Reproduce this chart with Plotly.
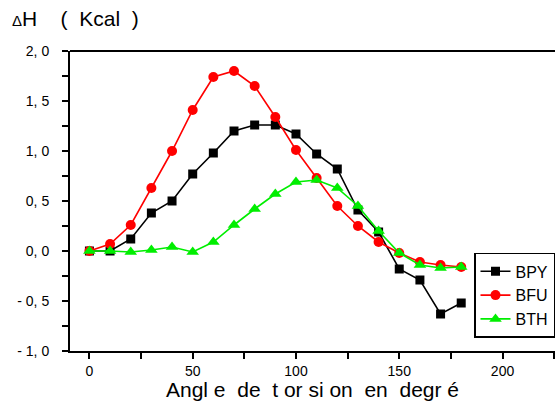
import plotly.graph_objects as go

angles = [0, 10, 20, 30, 40, 50, 60, 70, 80, 90, 100, 110, 120, 130, 140, 150, 160, 170, 180]
bpy = [0.0, 0.0, 0.12, 0.38, 0.50, 0.77, 0.98, 1.20, 1.26, 1.26, 1.17, 0.97, 0.82, 0.41, 0.19, -0.18, -0.29, -0.63, -0.52]
bfu = [0.0, 0.07, 0.26, 0.63, 1.00, 1.41, 1.74, 1.80, 1.65, 1.34, 1.01, 0.73, 0.45, 0.25, 0.09, -0.02, -0.11, -0.14, -0.16]
bth = [0.0, 0.0, -0.01, 0.01, 0.04, -0.01, 0.09, 0.26, 0.42, 0.57, 0.69, 0.71, 0.63, 0.45, 0.20, -0.02, -0.14, -0.17, -0.16]

y_ticks = [-1.0, -0.5, 0.0, 0.5, 1.0, 1.5, 2.0]
y_tick_text = ["- 1, 0", "- 0, 5", "0, 0", "0, 5", "1, 0", "1, 5", "2, 0"]
x_ticks = [0, 50, 100, 150, 200]
x_tick_text = ["0", "50", "100", "150", "200"]

font_family = "Liberation Sans, Arial, sans-serif"

fig = go.Figure()
fig.add_trace(go.Scatter(x=angles, y=bpy, name="BPY", mode="lines+markers",
                         line=dict(color="black", width=1.6),
                         marker=dict(symbol="square", size=9, color="black")))
fig.add_trace(go.Scatter(x=angles, y=bfu, name="BFU", mode="lines+markers",
                         line=dict(color="#ff0000", width=1.6),
                         marker=dict(symbol="circle", size=10, color="#ff0000")))
fig.add_trace(go.Scatter(x=angles, y=bth, name="BTH", mode="lines+markers",
                         line=dict(color="#00ee00", width=1.6),
                         marker=dict(symbol="triangle-up", size=11, color="#00ee00")))

fig.update_layout(
    width=555, height=401,
    margin=dict(l=70, r=0, t=51, b=50),
    paper_bgcolor="white", plot_bgcolor="white",
    font=dict(family=font_family, color="black"),
    showlegend=True,
    legend=dict(x=1.0, y=0.327, xanchor="right", yanchor="top",
                bordercolor="black", borderwidth=1.5, bgcolor="white",
                font=dict(size=16, family=font_family), tracegroupgap=0,
                itemwidth=30),
    xaxis=dict(range=[-9.4, 225.4], showgrid=False, zeroline=False,
               showline=True, linecolor="black", linewidth=2, automargin=False,
               ticks="outside", ticklen=6, tickwidth=1.5, tickcolor="black",
               tickvals=x_ticks, ticktext=x_tick_text,
               tickfont=dict(size=14),
               minor=dict(dtick=25, tick0=0, ticks="outside", ticklen=6, tickwidth=1.5, tickcolor="black"),
               title=dict(text="Angl e  de  t or si on  en  degr é", font=dict(size=21), standoff=8)),
    yaxis=dict(range=[-1.0, 2.0], showgrid=False, zeroline=False,
               showline=True, linecolor="black", linewidth=2, automargin=False,
               ticks="outside", ticklen=6, tickwidth=1.5, tickcolor="black",
               tickvals=y_ticks, ticktext=y_tick_text,
               tickfont=dict(size=14), ticklabelstandoff=10,
               minor=dict(dtick=0.25, tick0=0, ticks="outside", ticklen=6, tickwidth=1.5, tickcolor="black")),
)

fig.add_shape(type="line", xref="paper", yref="paper", x0=0, x1=1, y0=1, y1=1,
              line=dict(color="black", width=2))

fig.add_annotation(x=(10 - 70) / 485, y=1 + (51 - 19) / 300, xref="paper", yref="paper",
                   showarrow=False, xanchor="left", yanchor="middle",
                   text="<span style='font-size:15px'>Δ</span>H    (  Kcal  )",
                   font=dict(size=21))

fig.write_html("out.html")
